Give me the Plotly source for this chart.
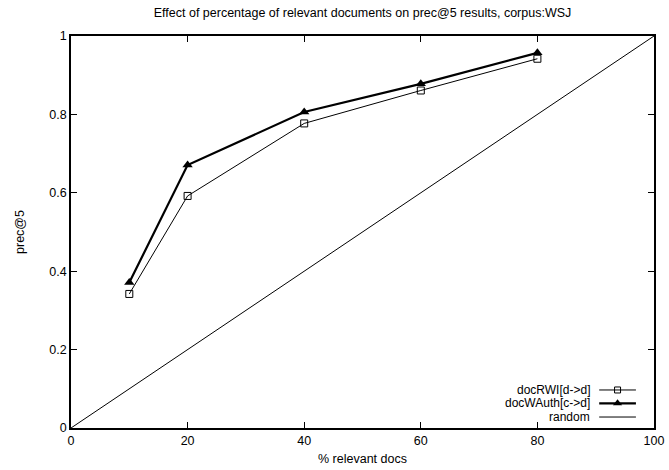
import plotly.graph_objects as go

# Percentage of relevant documents (x) and prec@5 results
pct_relevant = [10, 20, 40, 60, 80]
doc_rwi = [0.342, 0.592, 0.777, 0.861, 0.942]
doc_wauth = [0.371, 0.671, 0.806, 0.878, 0.957]
random_x = [0, 100]
random_y = [0, 1]

x_ticks = [0, 20, 40, 60, 80, 100]
y_ticks = [0, 0.2, 0.4, 0.6, 0.8, 1]
series_names = ["docRWI[d->d]", "docWAuth[c->d]", "random"]

FONT = "Liberation Sans, Arial, sans-serif"
FS = 12.5
KEY_FS = 12

fig = go.Figure()
fig.add_trace(go.Scatter(
    x=pct_relevant, y=doc_rwi, mode="lines+markers", name=series_names[0],
    line=dict(color="black", width=1),
    marker=dict(symbol="square-open", size=7, color="black", line=dict(width=1)),
))
fig.add_trace(go.Scatter(
    x=pct_relevant, y=doc_wauth, mode="lines+markers", name=series_names[1],
    line=dict(color="black", width=2.2),
    marker=dict(symbol="triangle-up", size=9, color="black"),
))
fig.add_trace(go.Scatter(
    x=random_x, y=random_y, mode="lines", name=series_names[2],
    line=dict(color="black", width=1),
))

# Key drawn in the lower-right corner: label on the left, sample on the right
key_rows = [0.097, 0.063, 0.028]
key_styles = [
    dict(width=1, symbol="square-open", size=6),
    dict(width=2.2, symbol="triangle-up", size=8),
    dict(width=1, symbol=None, size=0),
]
for name, yk, st in zip(series_names, key_rows, key_styles):
    fig.add_trace(go.Scatter(
        x=[0.906, 0.969], y=[yk, yk], mode="lines", xaxis="x2", yaxis="y2",
        line=dict(color="black", width=st["width"]), showlegend=False, hoverinfo="skip",
    ))
    if st["symbol"]:
        m = dict(symbol=st["symbol"], size=st["size"], color="black")
        if st["symbol"].endswith("open"):
            m["line"] = dict(width=1)
        fig.add_trace(go.Scatter(
            x=[0.9375], y=[yk], mode="markers", xaxis="x2", yaxis="y2",
            marker=m, showlegend=False, hoverinfo="skip",
        ))
    fig.add_annotation(
        x=0.894, y=yk, xref="x2", yref="y2", text=name, showarrow=False,
        xanchor="right", yanchor="middle", font=dict(family=FONT, size=KEY_FS, color="black"),
    )

axis_common = dict(
    showline=True, linecolor="black", linewidth=1.5, mirror="ticks",
    ticks="inside", ticklen=6, tickwidth=1, tickcolor="black",
    showgrid=False, zeroline=False, automargin=False,
    tickfont=dict(family=FONT, size=FS, color="black"),
)

fig.update_layout(
    width=669, height=470,
    margin=dict(l=71, r=15, t=36, b=42, autoexpand=False),
    paper_bgcolor="white", plot_bgcolor="white",
    showlegend=False,
    title=dict(
        text="Effect of percentage of relevant documents on prec@5 results, corpus:WSJ",
        x=(71 + 654) / 2 / 669, xanchor="center", y=1 - 13 / 470, yanchor="middle",
        font=dict(family=FONT, size=FS, color="black"),
        automargin=False,
    ),
    xaxis=dict(
        range=[0, 100], tickvals=x_ticks, ticktext=[str(v) for v in x_ticks],
        title=dict(text="% relevant docs", font=dict(family=FONT, size=FS, color="black"), standoff=7),
        **axis_common,
    ),
    yaxis=dict(
        range=[0, 1], tickvals=y_ticks, ticktext=["0", "0.2", "0.4", "0.6", "0.8", "1"],
        title=dict(text="prec@5", font=dict(family=FONT, size=FS, color="black"), standoff=22),
        **axis_common,
    ),
    xaxis2=dict(range=[0, 1], overlaying="x", visible=False, fixedrange=True, automargin=False),
    yaxis2=dict(range=[0, 1], overlaying="y", visible=False, fixedrange=True, automargin=False),
)

fig.write_html("out.html")
